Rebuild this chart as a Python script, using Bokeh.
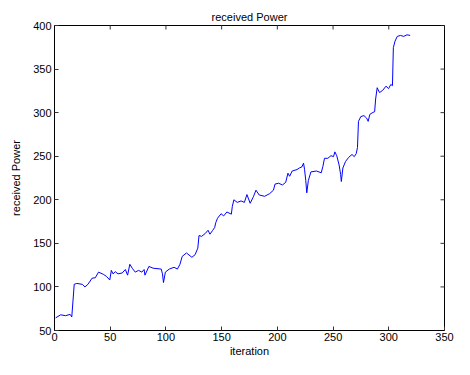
import math
from bokeh.plotting import figure
from bokeh.models import Range1d, FixedTicker
from bokeh.embed import file_html
from bokeh.resources import INLINE

iteration = [1, 5.5, 10, 14, 15.5, 17.7, 20, 25, 27.3, 30, 33.7, 36.6, 39.5, 43.8, 46.7,
             49.6, 51, 52.5, 54.6, 57, 60.7, 63.6, 65.6, 67.6, 70, 72.5, 75.4, 78.4, 80.4,
             81.2, 84.7, 88.5, 95.8, 96.9, 97.8, 99.5, 103, 107.3, 110.3, 112.6, 114.6,
             118.4, 123.3, 126.2, 128.6, 129.7, 132, 135, 137.8, 139.5, 142, 143.7, 144.8,
             146.3, 149.5, 151.8, 154.7, 158.7, 159.6, 161, 164, 167.4, 170.4, 172.7, 175.6,
             178.5, 180.8, 183.7, 188.6, 193, 196.5, 197.9, 201.1, 204.6, 207.5, 209.5, 211,
             213.3, 217.7, 219.7, 222, 223.5, 224.4, 225.5, 226.4, 227.8, 230.1, 235.1,
             239.4, 240.9, 242.3, 245.3, 248.1, 250.4, 251.6, 253.3, 255.4, 256.8, 257.4,
             258.8, 261.2, 264, 267, 269, 270.8, 271.9, 272.8, 274.9, 277.7, 280.1, 281.5,
             283, 285.8, 287.3, 288.2, 289.6, 291.7, 294.6, 297.5, 299.8, 301.8, 303.3,
             304.1, 305.6, 307.6, 310.5, 313.4, 316.3, 319.2]
power = [64.5, 68, 67, 68.5, 65.5, 103, 104, 103, 100, 103, 110, 110.5, 117, 114.5, 112,
         108, 119, 115, 117.5, 115, 116, 120, 113.5, 126, 121, 117, 119, 117, 120,
         113.5, 123.5, 121.5, 120.5, 115, 105, 117, 120.5, 122.5, 120.5, 126, 135,
         139, 134, 137, 144.5, 159, 158, 161, 165, 160.5, 165, 168, 174,
         178.8, 184, 181.5, 186, 183.5, 192.5, 200, 197, 198.7, 197, 206, 196,
         203.5, 211, 205.5, 204, 207, 211, 218, 219, 217, 220, 230.5, 227,
         233, 234.7, 236.5, 237.7, 242, 235, 222, 208, 222, 232, 233,
         231, 238.4, 247.6, 247.6, 250.6, 249.5, 255, 250.6, 240, 229, 221,
         236.5, 244, 248.7, 252, 249.5, 253, 260, 290, 295.5, 296.6, 293.7, 290,
         298, 300.3, 301, 315.7, 328.6, 323, 325.7, 330.4, 327.5, 332.3, 331,
         374.6, 382, 387.5, 388.6, 387.5, 389.3, 388.6]

x_ticks = [0, 50, 100, 150, 200, 250, 300, 350]
y_ticks = [50, 100, 150, 200, 250, 300, 350, 400]

FONT = "Liberation Sans"

p = figure(width=454, height=359, output_backend="svg", toolbar_location=None,
           x_range=Range1d(x_ticks[0], x_ticks[-1]), y_range=Range1d(y_ticks[0], y_ticks[-1]),
           title="received Power", x_axis_label="iteration", y_axis_label="received Power",
           min_border_left=54, min_border_right=10, min_border_top=25, min_border_bottom=27)

p.line(iteration, power, line_color="#0000ff", line_width=1)

# inward tick marks on the top and right edges of the box (MATLAB "box on")
p.scatter(x=x_ticks, y=[y_ticks[-1]] * len(x_ticks), marker="dash", size=8,
          angle=math.pi / 2, line_color="#333333", line_width=1)
p.scatter(x=[x_ticks[-1]] * len(y_ticks), y=y_ticks, marker="dash", size=8,
          angle=0, line_color="#333333", line_width=1)

p.xgrid.visible = False
p.ygrid.visible = False
p.outline_line_color = "black"
p.outline_line_alpha = 1.0
p.background_fill_color = "white"
p.border_fill_color = "white"

p.title.align = "center"
p.title.text_font = FONT
p.title.text_font_size = "11px"
p.title.text_font_style = "normal"
p.title.text_color = "black"
p.title.offset = 0
p.title.standoff = 5

bottom = p.below[0]
left = p.left[0]

for ax, ticks in ((bottom, x_ticks), (left, y_ticks)):
    ax.ticker = FixedTicker(ticks=ticks)
    ax.major_tick_in = 4
    ax.major_tick_out = 0
    ax.minor_tick_line_color = None
    ax.axis_line_color = "black"
    ax.major_tick_line_color = "#333333"
    ax.major_label_text_font = FONT
    ax.major_label_text_font_size = "11px"
    ax.major_label_text_color = "black"
    ax.axis_label_text_font = FONT
    ax.axis_label_text_font_size = "11px"
    ax.axis_label_text_font_style = "normal"
    ax.axis_label_text_color = "black"

bottom.major_label_standoff = 2
bottom.axis_label_standoff = 1
left.major_label_standoff = 3
left.axis_label_standoff = 8

open("out.html", "w").write(file_html(p, INLINE))
